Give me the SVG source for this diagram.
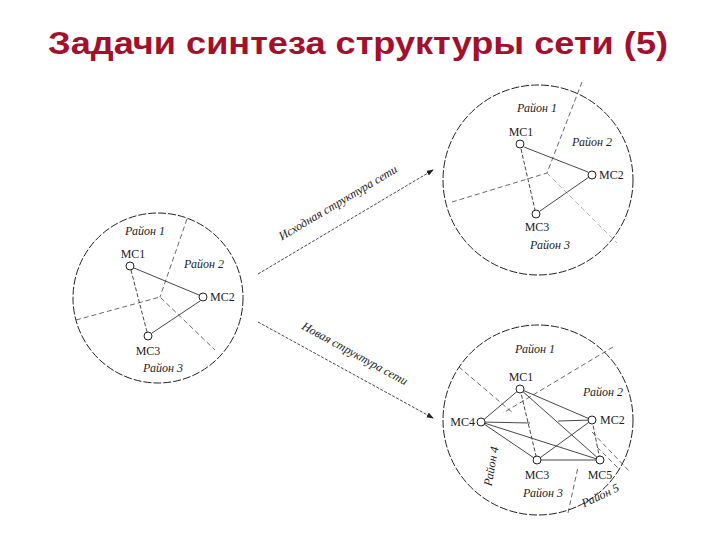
<svg xmlns="http://www.w3.org/2000/svg" width="720" height="540" viewBox="0 0 720 540">
<style>
.t{font-family:"Liberation Serif",serif;font-size:12px;fill:#222}
.i{font-style:italic}
.c{fill:none;stroke:#222;stroke-width:1;stroke-dasharray:8 2}
.d{fill:none;stroke:#444;stroke-width:0.8;stroke-dasharray:5 3}
.l{stroke:#333;stroke-width:0.9;fill:none}
.ld{stroke:#333;stroke-width:0.9;stroke-dasharray:4 2;fill:none}
.n{fill:#fff;stroke:#222;stroke-width:1}
.a{stroke:#333;stroke-width:0.9;stroke-dasharray:3 1.5;fill:none}
</style>
<defs><marker id="ar" markerWidth="8" markerHeight="6" refX="7" refY="3" orient="auto"><path d="M0,0 L8,3 L0,6 z" fill="#222"/></marker></defs>
<rect width="720" height="540" fill="#fff"/>
<text x="48" y="54" font-family="Liberation Sans,Arial,sans-serif" font-weight="bold" font-size="32" fill="#A2102C" textLength="620" lengthAdjust="spacingAndGlyphs">Задачи синтеза структуры сети (5)</text>

<g id="left">
<circle class="c" cx="158" cy="298" r="85"/>
<path class="d" d="M187,219 L160,297 M76,320 L160,297 L215,350"/>
<path class="l" d="M134,268 L199,295 M200,301 L152,333"/>
<path class="ld" d="M131,270 L147,332"/>
<circle class="n" cx="130" cy="266" r="4"/><circle class="n" cx="203" cy="297" r="4"/><circle class="n" cx="148" cy="336" r="4"/>
<text class="t" x="133" y="258" text-anchor="middle">МС1</text>
<text class="t" x="210" y="301">МС2</text>
<text class="t" x="148" y="355" text-anchor="middle">МС3</text>
<text class="t i" x="145" y="235" text-anchor="middle">Район 1</text>
<text class="t i" x="204" y="268" text-anchor="middle">Район 2</text>
<text class="t i" x="163" y="372" text-anchor="middle">Район 3</text>
</g>

<g id="topright">
<circle class="c" cx="538" cy="180" r="95"/>
<path class="d" d="M582,82 L547,173 L452,202"/>
<path class="d" d="M547,173 L617,243" stroke-opacity="0.5"/>
<path class="l" d="M524,147 L588,172 M589,177 L540,211"/>
<path class="ld" d="M521,149 L535,210"/>
<circle class="n" cx="520" cy="144" r="4"/><circle class="n" cx="592" cy="175" r="4"/><circle class="n" cx="536" cy="214" r="4"/>
<text class="t" x="521" y="136" text-anchor="middle">МС1</text>
<text class="t" x="599" y="179">МС2</text>
<text class="t" x="537" y="231" text-anchor="middle">МС3</text>
<text class="t i" x="537" y="112" text-anchor="middle">Район 1</text>
<text class="t i" x="592" y="146" text-anchor="middle">Район 2</text>
<text class="t i" x="550" y="249" text-anchor="middle">Район 3</text>
</g>

<g id="bottomright">
<circle class="c" cx="538" cy="420" r="95"/>
<path class="d" d="M613,347 L503,413 M459,367 L513,413 M568,513 L578,467 M592,432 L630,472 M597,447 L620,470"/>
<path class="l" d="M520,389 L481,422 L537,460 L592,420 L520,389 L600,460 L537,460 M481,422 L600,460 M481,422 L530,423 M558,421 L592,420"/>
<path class="ld" d="M520,389 L537,460 M592,420 L600,460"/>
<circle class="n" cx="520" cy="389" r="4"/><circle class="n" cx="592" cy="420" r="4"/><circle class="n" cx="537" cy="460" r="4"/><circle class="n" cx="481" cy="422" r="4"/><circle class="n" cx="600" cy="460" r="4"/>
<text class="t" x="521" y="381" text-anchor="middle">МС1</text>
<text class="t" x="600" y="424">МС2</text>
<text class="t" x="475" y="426" text-anchor="end">МС4</text>
<text class="t" x="537" y="479" text-anchor="middle">МС3</text>
<text class="t" x="600" y="479" text-anchor="middle">МС5</text>
<text class="t i" x="535" y="353" text-anchor="middle">Район 1</text>
<text class="t i" x="603" y="396" text-anchor="middle">Район 2</text>
<text class="t i" x="543" y="497" text-anchor="middle">Район 3</text>
<text class="t i" text-anchor="middle" transform="translate(495,467) rotate(-80)">Район 4</text>
<text class="t i" text-anchor="middle" transform="translate(602,499) rotate(-25)">Район 5</text>
</g>

<g id="connectors">
<path class="a" d="M258,274 L433,170" marker-end="url(#ar)"/>
<path class="a" d="M258,322 L433,418" marker-end="url(#ar)"/>
<text class="t i" font-size="13" text-anchor="middle" transform="translate(340,206) rotate(-30.7)">Исходная структура сети</text>
<text class="t i" font-size="13" text-anchor="middle" transform="translate(353,357) rotate(28.7)">Новая структура сети</text>
</g>
</svg>
